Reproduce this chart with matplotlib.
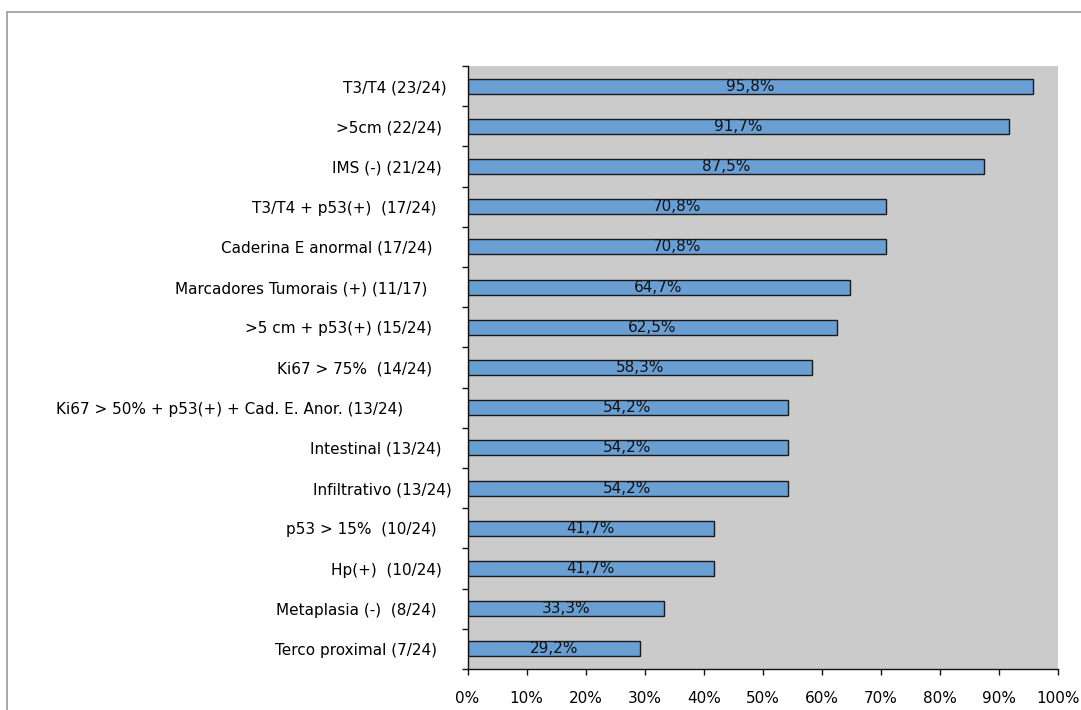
import numpy as np
import matplotlib.pyplot as plt
from matplotlib.patches import Rectangle

plt.rcParams['font.family'] = ['DejaVu Sans']

# categorias (de cima para baixo); espaços finais como no original
categorias = [
    "T3/T4 (23/24) ",
    ">5cm (22/24)  ",
    "IMS (-) (21/24)  ",
    "T3/T4 + p53(+)  (17/24)   ",
    "Caderina E anormal (17/24)    ",
    "Marcadores Tumorais (+) (11/17)     ",
    ">5 cm + p53(+) (15/24)    ",
    "Ki67 > 75%  (14/24)    ",
    "Ki67 > 50% + p53(+) + Cad. E. Anor. (13/24)          ",
    "Intestinal (13/24)  ",
    "Infiltrativo (13/24)",
    "p53 > 15%  (10/24)   ",
    "Hp(+)  (10/24)  ",
    "Metaplasia (-)  (8/24)   ",
    "Terco proximal (7/24)   ",
]
valores = [95.8, 91.7, 87.5, 70.8, 70.8, 64.7, 62.5, 58.3,
           54.2, 54.2, 54.2, 41.7, 41.7, 33.3, 29.2]
xticks = [0, 10, 20, 30, 40, 50, 60, 70, 80, 90, 100]

fig = plt.figure(figsize=(10.81, 7.10), dpi=100)
ax = fig.add_axes([467.5 / 1081, 41 / 710, (1058 - 467.5) / 1081, 603 / 710])
ax.set_facecolor('#cbcbcb')

y = np.arange(len(categorias))
bars = ax.barh(y, valores, height=0.375, color='#6a9fd4',
               edgecolor='#1a1a1a', linewidth=1.0)
rotulos = [f"{v:.1f}%".replace('.', ',') for v in valores]
ax.bar_label(bars, labels=rotulos, label_type='center', fontsize=11, color='#111111')

ax.set_xlim(0, 100)
ax.set_ylim(len(categorias) - 0.5, -0.5)
ax.set_xticks(xticks)
ax.set_xticklabels([f"{t}%" for t in xticks], fontsize=11)
ax.tick_params(axis='x', length=4.5, width=1, pad=11, color='#111111')

ax.set_yticks(y)
ax.set_yticklabels(categorias, fontsize=11)
ax.tick_params(axis='y', which='major', length=0, pad=11.5)
ax.set_yticks(np.arange(len(categorias) + 1) - 0.5, minor=True)
ax.tick_params(axis='y', which='minor', length=4.5, width=1, color='#111111')

for s in ['top', 'right']:
    ax.spines[s].set_visible(False)
for s in ['left', 'bottom']:
    ax.spines[s].set_color('#111111')
    ax.spines[s].set_linewidth(1.0)

# moldura do gráfico
fig.patches.append(Rectangle((7.5 / 1081, -0.1), 1.2, 1.1 - 11.5 / 710,
                             transform=fig.transFigure, fill=False,
                             edgecolor='#a0a0a0', linewidth=1.3))

fig.savefig('out.png', dpi=100)
